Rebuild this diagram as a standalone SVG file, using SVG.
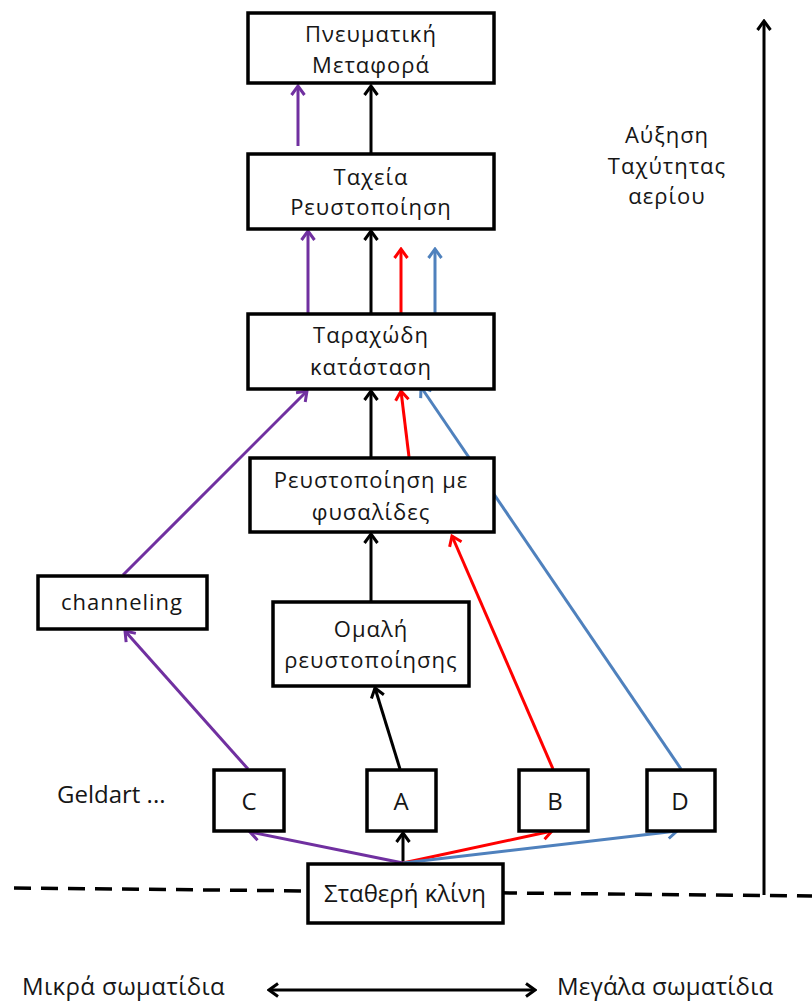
<svg xmlns="http://www.w3.org/2000/svg" width="812" height="1002" viewBox="0 0 812 1002">
<style>
.box{fill:#fff;stroke:#000;stroke-width:3.5}
.t{font-family:"Open Sans","Noto Sans",sans-serif;font-size:22px;letter-spacing:1px;fill:#161616;text-anchor:middle}
.big{font-size:24px;letter-spacing:0}
.c{fill:none;stroke-width:3}
.k{stroke:#000}
.p{stroke:#7030a0}
.r{stroke:#ff0000}
.b{stroke:#4f81bd}
</style>
<defs>
<marker id="ak" markerUnits="userSpaceOnUse" viewBox="-12 -9 14 18" markerWidth="14" markerHeight="18" refX="0" refY="0" orient="auto-start-reverse"><path d="M-9,-6.5 L0,0 L-9,6.5" fill="none" stroke="#000" stroke-width="3"/></marker>
<marker id="ap" markerUnits="userSpaceOnUse" viewBox="-12 -9 14 18" markerWidth="14" markerHeight="18" refX="0" refY="0" orient="auto"><path d="M-9,-6.5 L0,0 L-9,6.5" fill="none" stroke="#7030a0" stroke-width="3"/></marker>
<marker id="ar" markerUnits="userSpaceOnUse" viewBox="-12 -9 14 18" markerWidth="14" markerHeight="18" refX="0" refY="0" orient="auto"><path d="M-9,-6.5 L0,0 L-9,6.5" fill="none" stroke="#ff0000" stroke-width="3"/></marker>
<marker id="ab" markerUnits="userSpaceOnUse" viewBox="-12 -9 14 18" markerWidth="14" markerHeight="18" refX="0" refY="0" orient="auto"><path d="M-9,-6.5 L0,0 L-9,6.5" fill="none" stroke="#4f81bd" stroke-width="3"/></marker>
</defs>
<rect width="812" height="1002" fill="#fff"/>

<g id="baseline-dashed">
<line x1="14" y1="888" x2="812" y2="896" stroke="#000" stroke-width="3.5" stroke-dasharray="17 10"/>
</g>

<g id="connectors">
<line class="c k" x1="371" y1="153" x2="371" y2="86" marker-end="url(#ak)"/>
<line class="c k" x1="371" y1="313" x2="371" y2="231" marker-end="url(#ak)"/>
<line class="c k" x1="371" y1="457" x2="371" y2="391" marker-end="url(#ak)"/>
<line class="c k" x1="371" y1="601" x2="371" y2="534" marker-end="url(#ak)"/>
<line class="c k" x1="400" y1="769" x2="375" y2="688" marker-end="url(#ak)"/>
<line class="c k" x1="403" y1="863" x2="403" y2="833" marker-end="url(#ak)"/>
<line class="c k" x1="764" y1="895" x2="764" y2="21" marker-end="url(#ak)"/>
<line class="c k" x1="269" y1="990" x2="535" y2="990" marker-start="url(#ak)" marker-end="url(#ak)"/>

<line class="c p" x1="298" y1="146" x2="298" y2="86" marker-end="url(#ap)"/>
<line class="c p" x1="308" y1="313" x2="308" y2="231" marker-end="url(#ap)"/>
<line class="c p" x1="123" y1="575" x2="307" y2="391" marker-end="url(#ap)"/>
<line class="c p" x1="248" y1="769" x2="125" y2="631" marker-end="url(#ap)"/>
<line class="c p" x1="403" y1="863" x2="250" y2="832" marker-end="url(#ap)"/>

<line class="c r" x1="401" y1="313" x2="401" y2="249" marker-end="url(#ar)"/>
<line class="c r" x1="409" y1="457" x2="401" y2="391" marker-end="url(#ar)"/>
<line class="c r" x1="553" y1="769" x2="452" y2="536" marker-end="url(#ar)"/>
<line class="c r" x1="403" y1="863" x2="552" y2="831" marker-end="url(#ar)"/>

<line class="c b" x1="435" y1="313" x2="435" y2="249" marker-end="url(#ab)"/>
<line class="c b" x1="681" y1="769" x2="421" y2="387" marker-end="url(#ab)"/>
<line class="c b" x1="403" y1="863" x2="677" y2="831" marker-end="url(#ab)"/>
</g>

<g id="pneumatic">
<rect class="box" x="248" y="13" width="246" height="70"/>
<text class="t" x="371" y="42">Πνευματική</text>
<text class="t" x="371" y="73">Μεταφορά</text>
</g>
<g id="fast">
<rect class="box" x="248" y="154" width="246" height="75"/>
<text class="t" x="371" y="185">Ταχεία</text>
<text class="t" x="371" y="215">Ρευστοποίηση</text>
</g>
<g id="turbulent">
<rect class="box" x="248" y="314" width="246" height="75"/>
<text class="t" x="371" y="343">Ταραχώδη</text>
<text class="t" x="371" y="375">κατάσταση</text>
</g>
<g id="bubbling">
<rect class="box" x="250" y="458" width="244" height="74"/>
<text class="t" x="371" y="488">Ρευστοποίηση με</text>
<text class="t" x="371" y="520">φυσαλίδες</text>
</g>
<g id="smooth">
<rect class="box" x="273" y="602" width="196" height="84"/>
<text class="t" x="371" y="637">Ομαλή</text>
<text class="t" x="371" y="668">ρευστοποίησης</text>
</g>
<g id="channeling">
<rect class="box" x="38" y="576" width="169" height="53"/>
<text class="t" x="122" y="610">channeling</text>
</g>
<g id="geldart-label">
<text class="t big" x="57" y="803" style="text-anchor:start">Geldart ...</text>
</g>
<g id="C">
<rect class="box" x="214" y="770" width="70" height="61"/>
<text class="t big" x="249" y="810">C</text>
</g>
<g id="A">
<rect class="box" x="367" y="770" width="69" height="61"/>
<text class="t big" x="401" y="810">A</text>
</g>
<g id="B">
<rect class="box" x="519" y="770" width="69" height="61"/>
<text class="t big" x="555" y="810">B</text>
</g>
<g id="D">
<rect class="box" x="647" y="770" width="68" height="61"/>
<text class="t big" x="680" y="810">D</text>
</g>
<g id="fixed">
<rect class="box" x="308" y="864" width="195" height="59"/>
<text class="t big" x="405" y="902">Σταθερή κλίνη</text>
</g>
<g id="velocity-label">
<text class="t" x="667" y="143">Αύξηση</text>
<text class="t" x="667" y="174">Ταχύτητας</text>
<text class="t" x="667" y="204">αερίου</text>
</g>
<g id="size-labels">
<text class="t big" x="22" y="995" style="text-anchor:start;letter-spacing:0.4px">Μικρά σωματίδια</text>
<text class="t big" x="557" y="995" style="text-anchor:start;letter-spacing:0.2px">Μεγάλα σωματίδια</text>
</g>
</svg>
